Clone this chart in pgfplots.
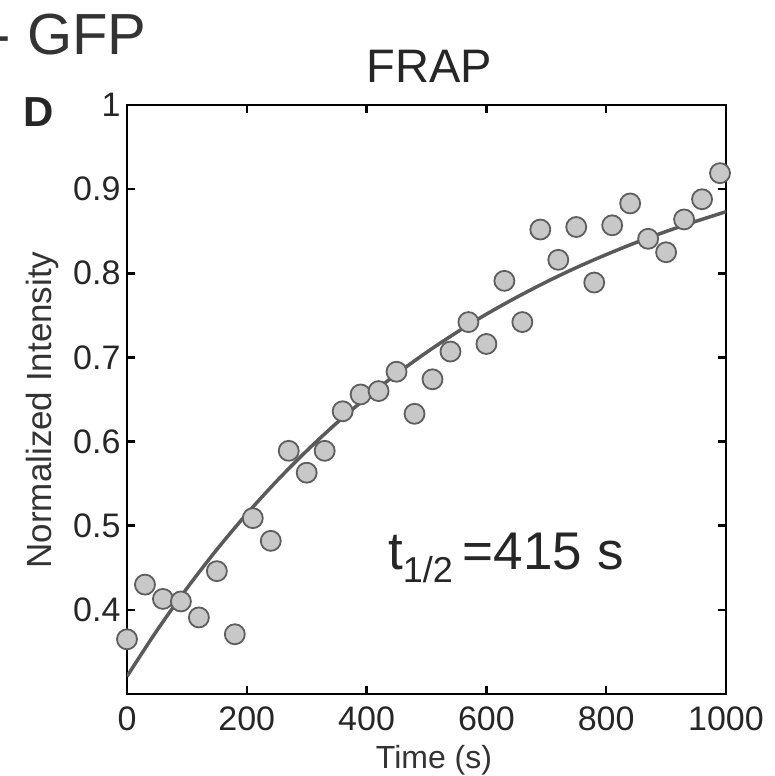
\documentclass[border=0pt]{standalone}
\usepackage{fontspec}
\setmainfont{Liberation Sans}
\usepackage{pgfplots}
\pgfplotsset{compat=1.18}
\definecolor{mkfill}{HTML}{C8C8C8}
\definecolor{mkedge}{HTML}{5E5E5E}
\definecolor{fitline}{HTML}{5A5A5A}
\begin{document}
\begin{tikzpicture}
\path[use as bounding box] (-127pt,-82pt) rectangle (647pt,694pt);
\begin{axis}[
  at={(0pt,0pt)}, anchor=south west,
  scale only axis, width=599pt, height=589pt,
  xmin=0, xmax=1000, ymin=0.3, ymax=1,
  xtick={0,200,400,600,800,1000},
  xticklabels={0,200,400,600,800,1000},
  ytick={0.4,0.5,0.6,0.7,0.8,0.9,1},
  yticklabels={0.4,0.5,0.6,0.7,0.8,0.9,1},
  tick align=inside,
  major tick length=8pt,
  axis line style={line width=2.5pt},
  major tick style={line width=2.5pt, black},
  tick pos=both,
  /pgf/number format/assume math mode=true,
  ticklabel style={font=\fontsize{34}{34}\selectfont, text=black!85},
  yticklabel style={xshift=-3pt},
  xticklabel style={yshift=-9pt},
]
\addplot[only marks, mark=*, mark size=10pt,
  mark options={fill=mkfill, draw=mkedge, line width=1.8pt}] coordinates {
(0,0.365) (30,0.430) (60,0.413) (90,0.410) (120,0.391) (150,0.446)
(180,0.371) (210,0.509) (240,0.482) (270,0.589) (300,0.563) (330,0.589)
(360,0.636) (390,0.656) (420,0.660) (450,0.683) (480,0.633) (510,0.674)
(540,0.707) (570,0.742) (600,0.716) (630,0.791) (660,0.742) (690,0.852)
(720,0.816) (750,0.855) (780,0.789) (810,0.857) (840,0.883) (870,0.841)
(900,0.825) (930,0.864) (960,0.888) (990,0.919)
};
\addplot[fitline, line width=3.5pt, smooth, no marks] coordinates {
(0,0.321) (50,0.3755) (100,0.4256) (150,0.4717) (200,0.5141) (250,0.5531)
(300,0.5890) (350,0.6220) (400,0.6523) (450,0.6803) (500,0.7060)
(550,0.7296) (600,0.7514) (650,0.7713) (700,0.7897) (750,0.8067)
(800,0.8222) (850,0.8366) (900,0.8497) (950,0.8618) (1000,0.8732)
};
\end{axis}
\node[anchor=base east, font=\fontsize{58}{58}\selectfont, text=black!80] at (23pt,639pt) {- GFP};
\node[anchor=base west, font=\fontsize{47}{47}\selectfont, text=black!85] at (236pt,611pt) {FRAP};
\node[anchor=base west, font=\fontsize{42}{42}\selectfont\bfseries, text=black!85] at (-107pt,567pt) {D};
\node[anchor=base, rotate=90, font=\fontsize{35}{35}\selectfont, text=black!80] at (-75pt,284pt) {Normalized Intensity};
\node[anchor=base, font=\fontsize{32}{32}\selectfont, text=black!80] at (307pt,-74pt) {Time (s)};
\node[anchor=base west, inner sep=0pt, font=\fontsize{53}{53}\selectfont, text=black!85] at (261pt,124pt)
  {t\raisebox{-13pt}{\fontsize{36}{36}\selectfont 1/2}\hspace{10pt}=415 s};
\end{tikzpicture}
\end{document}
